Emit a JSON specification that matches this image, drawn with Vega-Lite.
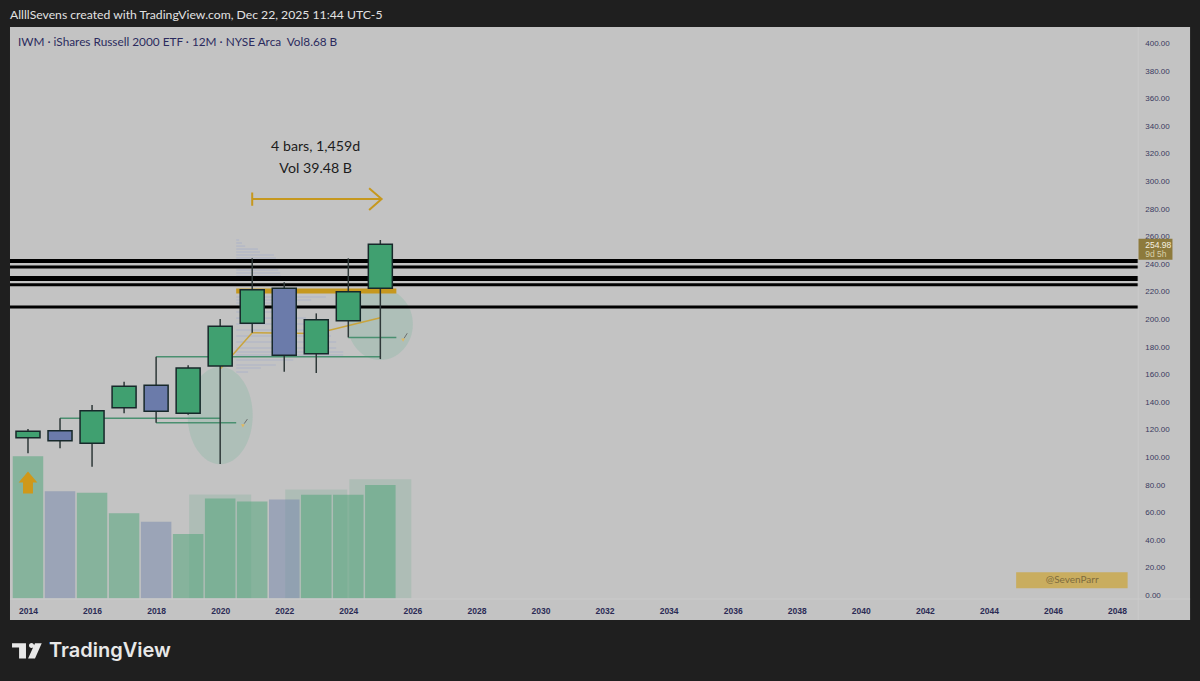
{
"$schema":"https://vega.github.io/schema/vega-lite/v6.json",
"width":1200,"height":681,"padding":0,
"autosize":{"type":"none"},
"background":"#1f1f1f",
"config":{"view":{"stroke":null},"axis":{"labelOverlap":false,"labelSeparation":0}},
"datasets":{
"panel":[{"x0":2013.438,"x1":2050.28,"y0":412.3,"y1":-17.4}],
"priceticks":[{"x":2048.88,"price":0},{"x":2048.88,"price":20},{"x":2048.88,"price":40},{"x":2048.88,"price":60},{"x":2048.88,"price":80},{"x":2048.88,"price":100},{"x":2048.88,"price":120},{"x":2048.88,"price":140},{"x":2048.88,"price":160},{"x":2048.88,"price":180},{"x":2048.88,"price":200},{"x":2048.88,"price":220},{"x":2048.88,"price":240},{"x":2048.88,"price":260},{"x":2048.88,"price":280},{"x":2048.88,"price":300},{"x":2048.88,"price":320},{"x":2048.88,"price":340},{"x":2048.88,"price":360},{"x":2048.88,"price":380},{"x":2048.88,"price":400}],
"candles":[
{"year":2014,"open":114.7,"close":119.3,"high":121,"low":103.4,"dir":"up"},
{"year":2015,"open":119.8,"close":112.5,"high":128.8,"low":107,"dir":"down"},
{"year":2016,"open":110.6,"close":134.3,"high":138.4,"low":93.7,"dir":"up"},
{"year":2017,"open":136.5,"close":152,"high":155.3,"low":132.4,"dir":"up"},
{"year":2018,"open":152.7,"close":133.8,"high":173.4,"low":125.6,"dir":"down"},
{"year":2019,"open":132.4,"close":165.2,"high":167.2,"low":131.4,"dir":"up"},
{"year":2020,"open":166.7,"close":195.4,"high":200.7,"low":95.7,"dir":"up"},
{"year":2021,"open":197.6,"close":222,"high":244.7,"low":190.8,"dir":"up"},
{"year":2022,"open":223,"close":174.4,"high":227.3,"low":162.5,"dir":"down"},
{"year":2023,"open":175.6,"close":200.2,"high":204.8,"low":161.6,"dir":"up"},
{"year":2024,"open":199.5,"close":220.5,"high":244.7,"low":187.4,"dir":"up"},
{"year":2025,"open":223,"close":254.98,"high":258,"low":171.7,"dir":"up"}],
"volume":[
{"year":2014,"vol":10.88,"dir":"up"},{"year":2015,"vol":8.2,"dir":"down"},{"year":2016,"vol":8.08,"dir":"up"},
{"year":2017,"vol":6.52,"dir":"up"},{"year":2018,"vol":5.86,"dir":"down"},{"year":2019,"vol":4.93,"dir":"up"},
{"year":2020,"vol":7.65,"dir":"up"},{"year":2021,"vol":7.42,"dir":"up"},{"year":2022,"vol":7.57,"dir":"down"},
{"year":2023,"vol":7.93,"dir":"up"},{"year":2024,"vol":7.93,"dir":"up"},{"year":2025,"vol":8.68,"dir":"up"}],
"volwide":[{"year":2020,"vol":7.94},{"year":2023,"vol":8.33},{"year":2025,"vol":9.12}],
"profile":[
{"start":2020.5,"price":258.0,"end":2020.59},{"start":2020.5,"price":255.8,"end":2020.68},{"start":2020.5,"price":253.6,"end":2020.78},{"start":2020.5,"price":251.4,"end":2021.18},
{"start":2020.5,"price":249.3,"end":2021.24},{"start":2020.5,"price":247.1,"end":2021.68},{"start":2020.5,"price":244.9,"end":2021.74},{"start":2020.5,"price":236.2,"end":2021.81},
{"start":2020.5,"price":234.1,"end":2021.87},{"start":2020.5,"price":231.9,"end":2021.9},{"start":2020.5,"price":216.7,"end":2023.3},{"start":2020.5,"price":214.5,"end":2022.84},
{"start":2020.5,"price":212.3,"end":2021.74},{"start":2020.5,"price":205.8,"end":2022.37},{"start":2020.5,"price":201.4,"end":2022.68},{"start":2020.5,"price":197.1,"end":2022.84},
{"start":2020.5,"price":192.8,"end":2023.15},{"start":2020.5,"price":188.4,"end":2023.46},{"start":2020.5,"price":184.1,"end":2023.62},{"start":2020.5,"price":179.7,"end":2023.62},
{"start":2020.5,"price":176.8,"end":2023.84},{"start":2020.5,"price":174.6,"end":2023.84},{"start":2020.5,"price":171.0,"end":2022.28},{"start":2020.5,"price":167.4,"end":2021.74},
{"start":2020.5,"price":165.2,"end":2021.27},{"start":2020.5,"price":162.3,"end":2020.87}],
"greens":[
{"x0":2015,"x1":2020,"price":128.8},{"x0":2018,"x1":2020.5,"price":125.6},
{"x0":2018,"x1":2025,"price":173.4},{"x0":2024,"x1":2025.5,"price":187.4}],
"goldline":[{"year":2020,"price":164.5},{"year":2021,"price":190.8},{"year":2023,"price":190.2},{"year":2025,"price":201.7}],
"measure":[
{"s":"shaft","year":2021,"price":287.7},{"s":"shaft","year":2025.04,"price":287.7},
{"s":"tick","year":2021,"price":292.4},{"s":"tick","year":2021,"price":282.8},
{"s":"head","year":2024.65,"price":295.4},{"s":"head","year":2025.04,"price":287.7},{"s":"head","year":2024.65,"price":279.7}],
"pencil":[
{"s":"a","year":2020.75,"price":124.9},{"s":"a","year":2020.85,"price":128.2},
{"s":"b","year":2025.74,"price":186.7},{"s":"b","year":2025.84,"price":190.4}],
"dots":[{"year":2020.71,"price":123.2},{"year":2025.71,"price":185.5}]
},
"layer":[
{"layer":[
{"data":{"name":"panel"},"mark":{"type":"rect","fill":"#c3c3c3"},
"encoding":{"x":{"field":"x0","type":"quantitative","scale":{"domain":[2013.126,2050.59],"nice":false,"zero":false,"padding":0}},"x2":{"field":"x1"},
"y":{"field":"y0","type":"quantitative","axis":null,"scale":{"domain":[-61.6,431.9],"nice":false,"zero":false}},"y2":{"field":"y1"}}}
]},
{"layer":[
{"data":{"name":"volwide"},"mark":{"type":"bar","size":62,"fill":"#49a375","fillOpacity":0.17},
"encoding":{"x":{"field":"year","type":"quantitative","scale":{"domain":[2013.126,2050.59],"nice":false,"zero":false,"padding":0}},
"y":{"field":"vol","type":"quantitative","axis":null,"scale":{"domain":[-6.34,45.83],"nice":false,"zero":false}}}},
{"data":{"name":"volume"},"mark":{"type":"bar","size":30.5,"fillOpacity":0.5},
"encoding":{"x":{"field":"year","type":"quantitative","scale":{"domain":[2013.126,2050.59],"nice":false,"zero":false,"padding":0}},
"y":{"field":"vol","type":"quantitative","axis":null,"scale":{"domain":[-6.34,45.83],"nice":false,"zero":false}},
"color":{"field":"dir","type":"nominal","legend":null,"scale":{"domain":["up","down"],"range":["#49a375","#7385ab"]}}}}
]},
{"layer":[
{"data":{"values":[{"year":2020,"price":130.8}]},"mark":{"type":"point","filled":true,"opacity":1,"fill":"#7fb59f","fillOpacity":0.3,"strokeWidth":0,"size":4225,"shape":"M-1,0A1,1.5,0,1,1,1,0A1,1.5,0,1,1,-1,0Z"},
"encoding":{"x":{"field":"year","type":"quantitative","axis":{"orient":"bottom","offset":-76,"title":null,"values":[2014,2016,2018,2020,2022,2024,2026,2028,2030,2032,2034,2036,2038,2040,2042,2044,2046,2048],"format":"d","domain":false,"ticks":false,"grid":false,"labelPadding":1,"labelFont":"Liberation Sans","labelFontSize":8.5,"labelFontWeight":"bold","labelColor":"#2b2b55","labelOverlap":false,"zindex":1},"scale":{"domain":[2013.126,2050.59],"nice":false,"zero":false,"padding":0}},
"y":{"field":"price","type":"quantitative","axis":{"orient":"right","title":null,"labels":false,"domain":false,"ticks":false,"grid":false},"scale":{"domain":[-61.6,431.9],"nice":false,"zero":false}}}},
{"data":{"values":[{"year":2025,"price":197}]},"mark":{"type":"point","filled":true,"opacity":1,"fill":"#7fb59f","fillOpacity":0.3,"strokeWidth":0,"size":4225,"shape":"M-1,0A1,1.1,0,1,1,1,0A1,1.1,0,1,1,-1,0Z"},
"encoding":{"x":{"field":"year","type":"quantitative"},"y":{"field":"price","type":"quantitative"}}},
{"data":{"name":"profile"},"mark":{"type":"rule","stroke":"#aab0c8","strokeOpacity":0.55,"strokeWidth":1.6},
"encoding":{"x":{"field":"start","type":"quantitative"},"x2":{"field":"end"},"y":{"field":"price","type":"quantitative"}}},
{"data":{"values":[{"x0":2013.438,"x1":2048.66,"price":230}]},"mark":{"type":"rule","stroke":"#000000","strokeWidth":5},
"encoding":{"x":{"field":"x0","type":"quantitative"},"x2":{"field":"x1"},"y":{"field":"price","type":"quantitative"}}},
{"data":{"values":[{"x0":2013.438,"x1":2048.66,"price":242.75}]},"mark":{"type":"rule","stroke":"#000000","strokeWidth":4},
"encoding":{"x":{"field":"x0","type":"quantitative"},"x2":{"field":"x1"},"y":{"field":"price","type":"quantitative"}}},
{"data":{"values":[{"x0":2013.438,"x1":2048.66,"price":238.4},{"x0":2013.438,"x1":2048.66,"price":225.6},{"x0":2013.438,"x1":2048.66,"price":209.4}]},"mark":{"type":"rule","stroke":"#000000","strokeWidth":3},
"encoding":{"x":{"field":"x0","type":"quantitative"},"x2":{"field":"x1"},"y":{"field":"price","type":"quantitative"}}},
{"data":{"values":[{"x0":2020.5,"x1":2025.5,"price":221}]},"mark":{"type":"rule","stroke":"#c6981e","strokeWidth":5},
"encoding":{"x":{"field":"x0","type":"quantitative"},"x2":{"field":"x1"},"y":{"field":"price","type":"quantitative"}}},
{"data":{"name":"greens"},"mark":{"type":"rule","stroke":"#4a9070","strokeWidth":1.5},
"encoding":{"x":{"field":"x0","type":"quantitative"},"x2":{"field":"x1"},"y":{"field":"price","type":"quantitative"}}},
{"data":{"name":"goldline"},"mark":{"type":"line","stroke":"#c9a43c","strokeWidth":1.5},
"encoding":{"x":{"field":"year","type":"quantitative"},"y":{"field":"price","type":"quantitative"}}},
{"data":{"name":"candles"},"mark":{"type":"rule","stroke":"#2e3838","strokeWidth":1.5},
"encoding":{"x":{"field":"year","type":"quantitative"},"y":{"field":"low","type":"quantitative"},"y2":{"field":"high"}}},
{"data":{"name":"candles"},"mark":{"type":"bar","size":24,"stroke":"#17282a","strokeWidth":1.5},
"encoding":{"x":{"field":"year","type":"quantitative"},"y":{"field":"open","type":"quantitative"},"y2":{"field":"close"},
"fill":{"field":"dir","type":"nominal","legend":null,"scale":{"domain":["up","down"],"range":["#40a070","#6b7baa"]}}}},
{"data":{"name":"pencil"},"mark":{"type":"line","stroke":"#6e6e6e","strokeWidth":1},
"encoding":{"x":{"field":"year","type":"quantitative"},"y":{"field":"price","type":"quantitative"},"detail":{"field":"s","type":"nominal"}}},
{"data":{"name":"dots"},"mark":{"type":"point","filled":true,"opacity":1,"fill":"#e0b860","size":14,"strokeWidth":0,"shape":"triangle-down"},
"encoding":{"x":{"field":"year","type":"quantitative"},"y":{"field":"price","type":"quantitative"}}},
{"data":{"values":[{"year":2014,"price":82.2}]},"mark":{"type":"point","filled":true,"opacity":1,"fill":"#cf981a","strokeWidth":0,"size":484,"shape":"M0,-1L0.85,0L0.45,0L0.45,1L-0.45,1L-0.45,0L-0.85,0Z"},
"encoding":{"x":{"field":"year","type":"quantitative"},"y":{"field":"price","type":"quantitative"}}},
{"data":{"name":"measure"},"mark":{"type":"line","stroke":"#c6981e","strokeWidth":2},
"encoding":{"x":{"field":"year","type":"quantitative"},"y":{"field":"price","type":"quantitative"},"detail":{"field":"s","type":"nominal"},"order":{"field":"price","type":"quantitative","sort":"descending"}}},
{"data":{"values":[{"x0":2048.66,"x1":2048.66,"y0":412.3,"y1":-17.4},{"x0":2013.438,"x1":2050.28,"y0":-2.2,"y1":-2.2}]},"mark":{"type":"rule","stroke":"#cbcbcb","strokeWidth":1},
"encoding":{"x":{"field":"x0","type":"quantitative"},"x2":{"field":"x1"},"y":{"field":"y0","type":"quantitative"},"y2":{"field":"y1"}}},
{"data":{"name":"priceticks"},"mark":{"type":"text","align":"left","font":"Liberation Sans","fontSize":8,"fill":"#3a3a60"},
"encoding":{"x":{"field":"x","type":"quantitative"},"y":{"field":"price","type":"quantitative"},"text":{"field":"price","type":"quantitative","format":".2f"}}},
{"data":{"values":[{"x0":2048.67,"x1":2049.73,"y0":258.9,"y1":243.7}]},"mark":{"type":"rect","fill":"#8d7a3c"},
"encoding":{"x":{"field":"x0","type":"quantitative"},"x2":{"field":"x1"},"y":{"field":"y0","type":"quantitative"},"y2":{"field":"y1"}}},
{"data":{"values":[{"x0":2044.85,"x1":2048.33,"y0":17.2,"y1":5.6}]},"mark":{"type":"rect","fill":"#c9ad5f"},
"encoding":{"x":{"field":"x0","type":"quantitative"},"x2":{"field":"x1"},"y":{"field":"y0","type":"quantitative"},"y2":{"field":"y1"}}},
{"data":{"values":[{"x":2048.88,"y":254.3,"t":"254.98"}]},"mark":{"type":"text","align":"left","font":"Liberation Sans","fontSize":8.5,"fill":"#f5f0e0"},
"encoding":{"x":{"field":"x","type":"quantitative"},"y":{"field":"y","type":"quantitative"},"text":{"field":"t","type":"nominal"}}},
{"data":{"values":[{"x":2048.88,"y":247.8,"t":"9d 5h"}]},"mark":{"type":"text","align":"left","font":"Liberation Sans","fontSize":8.5,"fill":"#d8cfa8"},
"encoding":{"x":{"field":"x","type":"quantitative"},"y":{"field":"y","type":"quantitative"},"text":{"field":"t","type":"nominal"}}},
{"data":{"values":[{"x":2046.6,"y":11.6,"t":"@SevenParr"}]},"mark":{"type":"text","align":"center","font":"Lato","fontSize":10,"fill":"#7d6b3e"},
"encoding":{"x":{"field":"x","type":"quantitative"},"y":{"field":"y","type":"quantitative"},"text":{"field":"t","type":"nominal"}}},
{"data":{"values":[{"x":2013.438,"y":421,"t":"AllllSevens created with TradingView.com, Dec 22, 2025 11:44 UTC-5"}]},"mark":{"type":"text","align":"left","font":"Lato","fontSize":12.2,"fill":"#e2e2e2"},
"encoding":{"x":{"field":"x","type":"quantitative"},"y":{"field":"y","type":"quantitative"},"text":{"field":"t","type":"nominal"}}},
{"data":{"values":[{"x":2013.688,"y":401.4,"t":"IWM · iShares Russell 2000 ETF · 12M · NYSE Arca\u00a0\u00a0Vol8.68\u202fB"}]},"mark":{"type":"text","align":"left","font":"Lato","fontSize":11.8,"fill":"#2b2b5e"},
"encoding":{"x":{"field":"x","type":"quantitative"},"y":{"field":"y","type":"quantitative"},"text":{"field":"t","type":"nominal"}}},
{"data":{"values":[{"x":2022.98,"y":325.4,"t":"4 bars, 1,459d"},{"x":2022.98,"y":309.4,"t":"Vol 39.48\u202fB"}]},"mark":{"type":"text","align":"center","font":"Lato","fontSize":14.2,"fill":"#1c1c1c"},
"encoding":{"x":{"field":"x","type":"quantitative"},"y":{"field":"y","type":"quantitative"},"text":{"field":"t","type":"nominal"}}},
{"data":{"values":[{"x":2014.656,"y":-39.9,"t":"TradingView"}]},"mark":{"type":"text","align":"left","font":"Inter","fontSize":20,"fontWeight":600,"fill":"#e8e8e8"},
"encoding":{"x":{"field":"x","type":"quantitative"},"y":{"field":"y","type":"quantitative"},"text":{"field":"t","type":"nominal"}}},
{"data":{"values":[{"x":2013.97,"y":-39.9}]},"mark":{"type":"point","filled":true,"opacity":1,"fill":"#e8e8e8","strokeWidth":0,"size":900,"shape":"M-1,-0.52L-0.07,-0.52L-0.07,0.5L-0.53,0.5L-0.53,-0.23L-1,-0.23ZM0.13,-0.37A0.17,0.17,0,1,1,0.47,-0.37A0.17,0.17,0,1,1,0.13,-0.37ZM0.53,-0.52L0.98,-0.52L0.53,0.5L0.07,0.5Z"},
"encoding":{"x":{"field":"x","type":"quantitative"},"y":{"field":"y","type":"quantitative"}}}
]}
],
"resolve":{"scale":{"y":"independent"}}
}
